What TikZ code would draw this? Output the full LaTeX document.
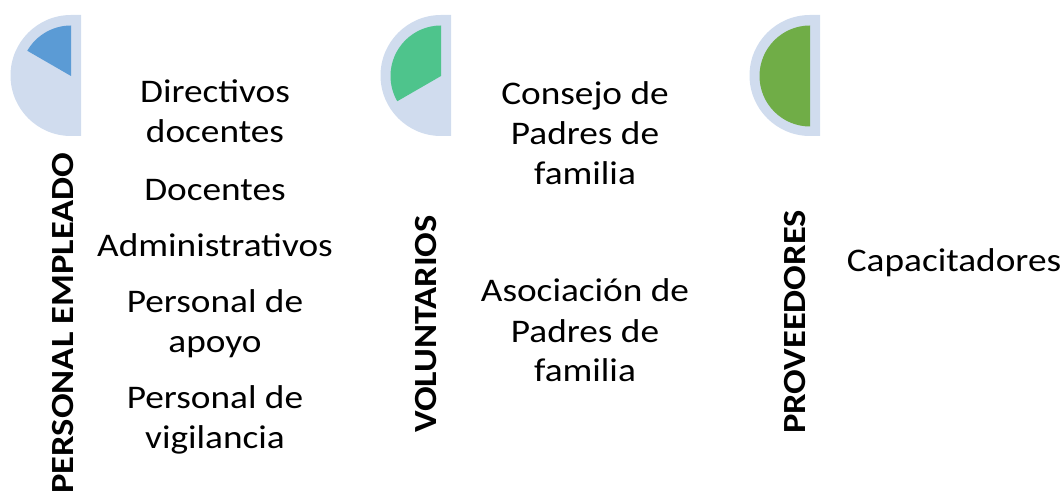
\documentclass[tikz,border=0pt]{standalone}
\usepackage{fontspec}
\setmainfont{Carlito}[FakeStretch=1.13]
\definecolor{lightbg}{RGB}{208,220,238}
\definecolor{wedgeblue}{RGB}{91,155,213}
\definecolor{wedgegreen}{RGB}{78,196,140}
\definecolor{wedgedkgreen}{RGB}{112,173,71}
\tikzset{
  itemtxt/.style={anchor=base, inner sep=0pt, align=center, font=\fontsize{33}{40}\selectfont},
  headtxt/.style={anchor=base, inner sep=0pt, rotate=90, font=\fontsize{32.3}{40}\selectfont\bfseries},
  lightshape/.style={fill=lightbg},
}
\begin{document}
\begin{tikzpicture}[x=1pt,y=1pt]
\useasboundingbox (0,0) rectangle (1064,495);
% shapes
\foreach \cx/\ea/\col in {71/150/wedgeblue, 441/210/wedgegreen, 810/270/wedgedkgreen}{
  \fill[lightshape] (\cx+10,480) -- (\cx,480) arc[start angle=90,end angle=270,radius=60.5] -- (\cx+10,359) -- cycle;
  \fill[\col] (\cx,419) -- (\cx,469.5) arc[start angle=90,end angle=\ea,radius=50.5] -- cycle;
}
% headings
\node[headtxt] (h1) at (73,172) {PERSONAL EMPLEADO};
\node[headtxt] (h2) at (436,171) {VOLUNTARIOS};
\node[headtxt] (h3) at (805,173) {PROVEEDORES};
% left column (anchor = baseline of last line)
\node[itemtxt] (a1) at (215,352) {Directivos\\docentes};
\node[itemtxt] (a2) at (215,294) {Docentes};
\node[itemtxt] (a3) at (215,238) {Administrativos};
\node[itemtxt] (a4) at (215,142) {Personal de\\apoyo};
\node[itemtxt] (a5) at (215,47) {Personal de\\vigilancia};
% middle column
\node[itemtxt] (b1) at (585,310) {Consejo de\\Padres de\\familia};
\node[itemtxt] (b2) at (585,113) {Asociación de\\Padres de\\familia};
% right column
\node[itemtxt] (c1) at (954,223) {Capacitadores};
\end{tikzpicture}
\end{document}
